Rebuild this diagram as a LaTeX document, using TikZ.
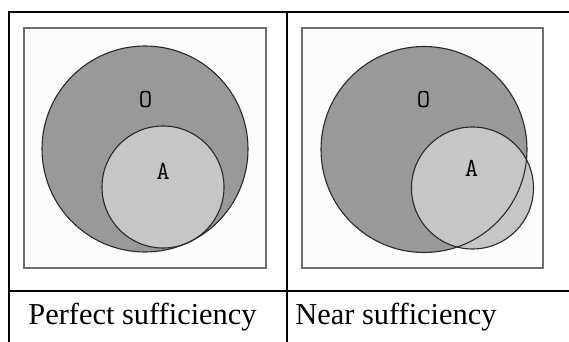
\documentclass[tikz,border=0pt]{standalone}
\usepackage{fontspec}
\setmainfont{Liberation Serif}
\usepackage{xcolor}
\definecolor{outerfill}{HTML}{999999}
\definecolor{innerfill}{HTML}{C6C6C6}
\definecolor{panelfill}{HTML}{FCFCFC}
\definecolor{panelline}{HTML}{6E6E6E}
\definecolor{ringline}{HTML}{2A2A2A}
\tikzset{
  rule/.style={line width=1pt, black},
  panel/.style={draw=panelline, line width=0.75pt, fill=panelfill},
  ring/.style={draw=ringline, line width=0.55pt},
  setname/.style={font=\ttfamily\fontsize{13}{13}\selectfont, inner sep=0pt},
  caption/.style={font=\fontsize{15.2}{16}\selectfont, anchor=base west, inner sep=0pt}
}

\begin{document}
\begin{tikzpicture}[x=0.5pt, y=-0.5pt]
        \useasboundingbox (0,0) rectangle (569,342);

        % table rules
        \draw[rule] (8,12)  -- (569,12);
        \draw[rule] (8,291) -- (569,291);
        \draw[rule] (9,11)  -- (9,342);
        \draw[rule] (287,11) -- (287,342);

        % left panel
        \draw[panel] (24,28) rectangle (266,268);
        \fill[outerfill] (145,149) circle (103);
        \fill[innerfill] (163,187) circle (61);
        \draw[ring] (145,149) circle (103);
        \draw[ring] (163,187) circle (61);
        \node[setname] (o1) at (145.5,100) {O};
        \node[setname] (a1) at (163,171) {A};

        % right panel
        \draw[panel] (302,28) rectangle (543,268);
        \fill[outerfill] (424,149.5) circle (103);
        \fill[innerfill] (472.5,188) circle (61);
        \draw[ring] (424,149.5) circle (103);
        \draw[ring] (472.5,188) circle (61);
        \node[setname] (o2) at (423.5,99.5) {O};
        \node[setname] (a2) at (471.5,168.5) {A};

        \node[caption] (perfect) at (28,325)  {Perfect sufficiency};
        \node[caption] (near)    at (295,325) {Near sufficiency};
    \end{tikzpicture}
\end{document}
